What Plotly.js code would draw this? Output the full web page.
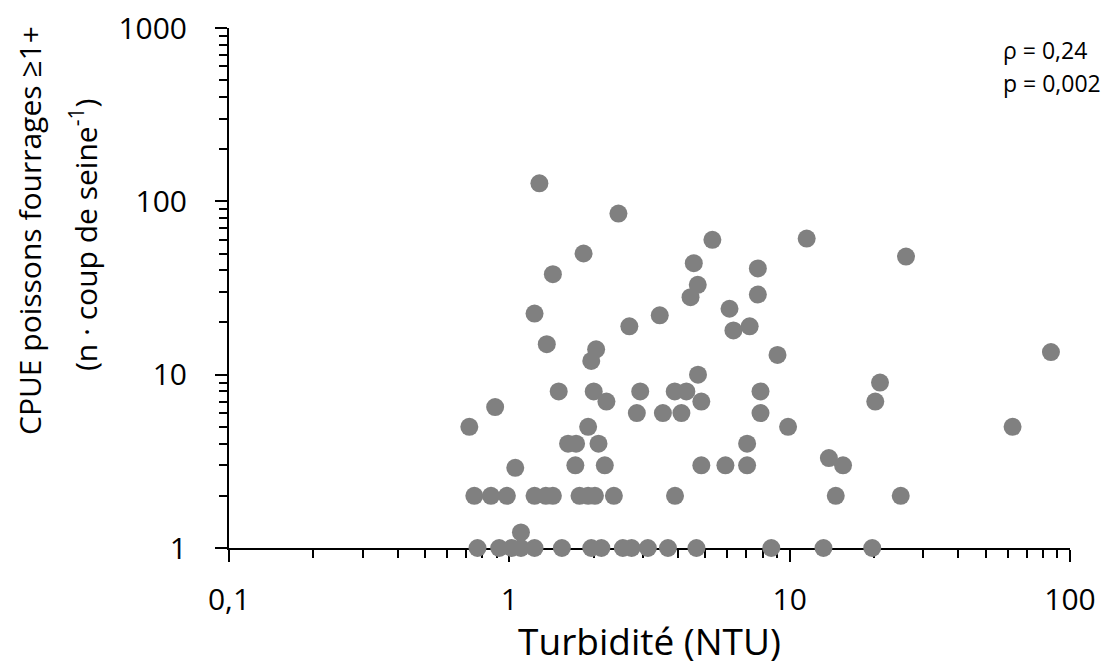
<!DOCTYPE html>
<html>
<head>
<meta charset="utf-8">
<script src="https://cdn.plot.ly/plotly-3.0.1.min.js"></script>
<style>html,body{margin:0;padding:0;background:#fff;}#chart{width:1102px;height:666px;}</style>
</head>
<body>
<div id="chart"></div>
<script>
// Turbidity (NTU) and CPUE (n per seine haul)
const turbidity = [
  1.28, 2.45, 1.84, 1.43, 5.3, 4.55, 4.7, 4.43, 6.1, 6.3, 1.23, 1.36, 2.68, 3.44, 2.04, 1.96,
  1.5, 2.0, 2.22, 2.93, 3.89, 4.28, 4.71, 4.84, 2.85, 3.53, 4.11, 0.89, 0.72, 1.91, 1.62, 1.73, 2.08, 1.72, 2.19, 4.84, 5.9, 1.05,
  0.75, 0.86, 0.98, 1.23, 1.35, 1.43, 1.78, 1.91, 2.02, 2.36, 3.9,
  0.77, 0.92, 1.02, 1.1, 1.23, 1.54, 1.96, 2.13, 2.54, 2.73, 3.12, 3.68, 4.65, 8.6, 13.2, 19.7,
  1.1,
  11.5, 26, 7.7, 7.7, 7.2, 9.05, 85.5, 21, 20.2, 7.87, 7.87, 9.87, 62.4, 7.05, 7.05, 13.8, 15.5, 14.6, 24.9
];
const cpue = [
  127, 85, 50, 38, 60, 44, 33, 28, 24, 18, 22.5, 15, 19, 22, 14, 12,
  8, 8, 7, 8, 8, 8, 10, 7, 6, 6, 6, 6.5, 5, 5, 4, 4, 4, 3, 3, 3, 3, 2.9,
  2, 2, 2, 2, 2, 2, 2, 2, 2, 2, 2,
  1, 1, 1, 1, 1, 1, 1, 1, 1, 1, 1, 1, 1, 1, 1, 1,
  1.23,
  61, 48, 41, 29, 19, 13, 13.5, 9, 7, 8, 6, 5, 5, 4, 3, 3.3, 3, 2, 2
];
const xTitle = 'Turbidité (NTU)';
const yTitleLines = ['CPUE poissons fourrages ≥1+', '(n · coup de seine<sup>-1</sup>)'];
const statLines = ['ρ = 0,24', 'p = 0,002'];

const FONT = 'Open Sans, Noto Sans, sans-serif';

const trace = {
  type: 'scatter', mode: 'markers',
  x: turbidity, y: cpue,
  marker: {size: 18, color: '#808080', line: {width: 0}},
  cliponaxis: false, hoverinfo: 'skip'
};

const axisCommon = {
  type: 'log', dtick: 1, showgrid: false, zeroline: false,
  showline: true, linecolor: '#000', linewidth: 2,
  ticks: 'outside', ticklen: 12, tickwidth: 2, tickcolor: '#000',
  minor: {ticks: 'outside', ticklen: 8, tickwidth: 2, tickcolor: '#000', dtick: 'D1', showgrid: false},
  exponentformat: 'none', layer: 'below traces',
  tickfont: {family: FONT, size: 30, color: '#000'}, fixedrange: true
};

// plot area spans x 229..1070 px, y 28..548 px
const PL = 229, PW = 841, PT = 28, PH = 520;
const px2paperX = px => (px - PL) / PW;
const px2paperY = py => (PT + PH - py) / PH;

const layout = {
  width: 1102, height: 666,
  margin: {l: PL, r: 1102 - PL - PW, t: PT, b: 666 - PT - PH},
  paper_bgcolor: '#fff', plot_bgcolor: '#fff',
  separators: ', ',
  showlegend: false,
  xaxis: Object.assign({}, axisCommon, {
    range: [-1, 2], ticklabelstandoff: 12,
    title: {text: xTitle, font: {family: FONT, size: 37, color: '#000'}, standoff: 4}
  }),
  yaxis: Object.assign({}, axisCommon, {
    range: [0, 3], ticklabelstandoff: 22
  }),
  annotations: [
    {xref: 'paper', yref: 'paper', x: px2paperX(30), y: px2paperY(231), xanchor: 'center', yanchor: 'middle',
     textangle: -90, showarrow: false, text: yTitleLines[0], font: {family: FONT, size: 30, color: '#000'}},
    {xref: 'paper', yref: 'paper', x: px2paperX(84), y: px2paperY(235), xanchor: 'center', yanchor: 'middle',
     textangle: -90, showarrow: false, text: yTitleLines[1], font: {family: FONT, size: 30, color: '#000'}},
    {xref: 'paper', yref: 'paper', x: px2paperX(1001), y: px2paperY(50), xanchor: 'left', yanchor: 'middle', showarrow: false,
     text: statLines[0], font: {family: FONT, size: 23, color: '#000'}},
    {xref: 'paper', yref: 'paper', x: px2paperX(1001), y: px2paperY(83), xanchor: 'left', yanchor: 'middle', showarrow: false,
     text: statLines[1], font: {family: FONT, size: 23, color: '#000'}}
  ]
};

Plotly.newPlot('chart', [trace], layout, {displayModeBar: false, staticPlot: true});
</script>
</body>
</html>
